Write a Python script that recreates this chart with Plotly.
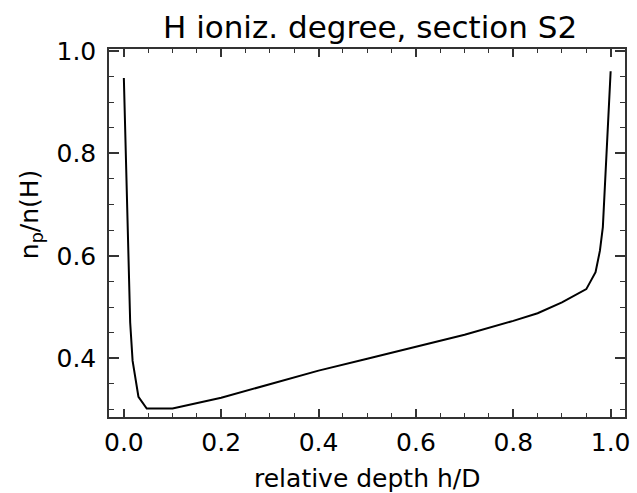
import plotly.graph_objects as go

# relative depth h/D and ionization degree n_p/n(H)
depth = [0.0, 0.013, 0.018, 0.030, 0.047, 0.10, 0.20, 0.30, 0.40, 0.50, 0.60,
         0.70, 0.80, 0.85, 0.90, 0.95, 0.969, 0.978, 0.984, 0.990, 0.992, 1.0]
ion = [0.947, 0.47, 0.395, 0.325, 0.302, 0.302, 0.323, 0.349, 0.376, 0.399, 0.422,
       0.446, 0.473, 0.488, 0.509, 0.535, 0.568, 0.610, 0.656, 0.761, 0.806, 0.960]

FONT = "DejaVu Sans"

fig = go.Figure(go.Scatter(x=depth, y=ion, mode="lines",
                           line=dict(color="black", width=2), showlegend=False))

axis_common = dict(showgrid=False, zeroline=False, showline=True, linecolor="#333",
                   linewidth=1.5, mirror="allticks", ticks="inside", tickcolor="#333",
                   tickmode="linear", tick0=0, dtick=0.2, tickformat=".1f",
                   tickfont=dict(family=FONT, size=25, color="black"))

fig.update_xaxes(range=[-0.0305, 1.0295], ticklen=8, tickwidth=1.5,
                 minor=dict(tickmode="linear", dtick=0.05, tick0=0, ticks="inside", ticklen=4,
                            tickcolor="#333", tickwidth=1.2, showgrid=False),
                 ticklabelstandoff=2, **axis_common)
fig.update_yaxes(range=[0.2855, 1.0035], ticklen=10, tickwidth=1.5,
                 minor=dict(tickmode="linear", dtick=0.05, tick0=0, ticks="inside", ticklen=5,
                            tickcolor="#333", tickwidth=1.2, showgrid=False),
                 ticklabelstandoff=6, **axis_common)

fig.update_layout(
    width=637, height=493,
    margin=dict(l=109, r=7, t=49, b=76),
    plot_bgcolor="white", paper_bgcolor="white",
    title=dict(text="H ioniz. degree, section S2", x=0.581, xanchor="center",
               y=1 - 27 / 493, yanchor="middle", yref="container",
               font=dict(family=FONT, size=31, color="black")),
    annotations=[
        dict(text="relative depth h/D", xref="paper", yref="paper", x=0.5, y=-0.166,
             xanchor="center", yanchor="middle", showarrow=False,
             font=dict(family=FONT, size=25, color="black")),
        dict(text="n<sub>p</sub>/n(H)", xref="paper", yref="paper", x=-0.152, y=0.55,
             xanchor="center", yanchor="middle", textangle=-90, showarrow=False,
             font=dict(family=FONT, size=25, color="black")),
    ],
)

fig.write_html("out.html")
